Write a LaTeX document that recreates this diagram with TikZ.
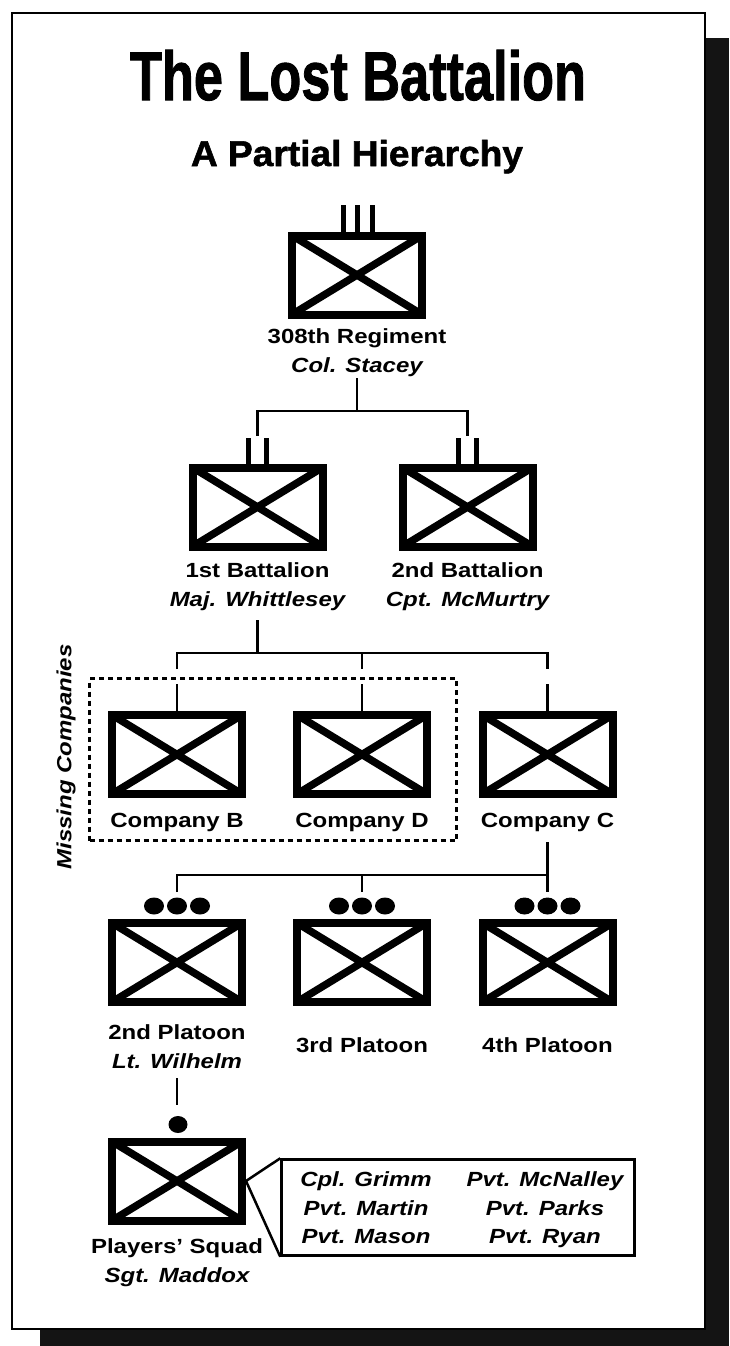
\documentclass[tikz,border=0pt]{standalone}
\usepackage{graphicx}
\usepackage{fontspec}
\setmainfont{Liberation Sans}[FakeStretch=1.17]
\newfontfamily\titlefont{Liberation Sans}[FakeBold=1.5]
\begin{document}
\begin{tikzpicture}[x=1pt,y=-1pt,
  unit/.style={draw, line width=8pt, minimum width=130pt, minimum height=79pt,
    inner sep=0pt, outer sep=4pt,
    path picture={\draw[line width=7.5pt]
      (path picture bounding box.north west) -- (path picture bounding box.south east)
      (path picture bounding box.south west) -- (path picture bounding box.north east);}},
  lab/.style={font=\fontsize{20.5}{24}\selectfont\bfseries, inner sep=0pt, anchor=base},
  cmd/.style={font=\fontsize{20.5}{24}\selectfont\bfseries\itshape, inner sep=0pt, anchor=base},
  conn/.style={line width=2.5pt},
  bar/.style={line width=5pt},
  dotm/.style={fill=black}]
\useasboundingbox (0,0) rectangle (729,1346);
% frame and shadow
\fill[black!92] (705,38) rectangle (729,1346);
\fill[black!92] (40,1329) rectangle (729,1346);
\draw[line width=2.5pt] (12,13) rectangle (705,1329);
% title
\node[inner sep=0pt, anchor=base] (title) at (358,100)
  {\resizebox{456pt}{50pt}{\titlefont\bfseries The Lost Battalion}};
\node[inner sep=0pt, anchor=base] (subtitle) at (357,166)
  {\resizebox{332pt}{26pt}{\titlefont\bfseries A Partial Hierarchy}};
% units
\node[unit] (reg) at (357,275) {};
\node[unit] (bat1) at (257.5,507) {};
\node[unit] (bat2) at (467.5,507) {};
\node[unit] (coB) at (177,754.5) {};
\node[unit] (coD) at (362,754.5) {};
\node[unit] (coC) at (547.5,754.5) {};
\node[unit] (pl2) at (177,962.5) {};
\node[unit] (pl3) at (362,962.5) {};
\node[unit] (pl4) at (547.5,962.5) {};
\node[unit] (sq) at (177,1181) {};
% echelon markers
\foreach \dx in {-14,0,15}
  \draw[bar] ([xshift=\dx pt]reg.north) -- ([xshift=\dx pt,yshift=27pt]reg.north);
\foreach \n in {bat1,bat2}
  \foreach \dx in {-9,9}
    \draw[bar] ([xshift=\dx pt]\n.north) -- ([xshift=\dx pt,yshift=26pt]\n.north);
\foreach \n in {pl2,pl3,pl4}
  \foreach \dx in {-23,0,23}
    \fill[dotm] ([xshift=\dx pt,yshift=13pt]\n.north) ellipse [x radius=10pt, y radius=8.5pt];
\fill[dotm] ([xshift=1pt,yshift=13pt]sq.north) ellipse [x radius=9.5pt, y radius=8.5pt];
% labels
\node[lab] (reglab) at (357,343) {308th Regiment};
\node[cmd] (regcmd) at (357,372) {Col. Stacey};
\node[lab] (b1lab) at (257.5,577) {1st Battalion};
\node[cmd] (b1cmd) at (257.5,606) {Maj. Whittlesey};
\node[lab] (b2lab) at (467.5,577) {2nd Battalion};
\node[cmd] (b2cmd) at (467.5,606) {Cpt. McMurtry};
\node[lab] (cBlab) at (177,827) {Company B};
\node[lab] (cDlab) at (362,827) {Company D};
\node[lab] (cClab) at (547.5,827) {Company C};
\node[lab] (p2lab) at (177,1039) {2nd Platoon};
\node[cmd] (p2cmd) at (177,1068) {Lt. Wilhelm};
\node[lab] (p3lab) at (362,1052) {3rd Platoon};
\node[lab] (p4lab) at (547.5,1052) {4th Platoon};
\node[lab] (sqlab) at (177,1253) {Players' Squad};
\node[cmd] (sqcmd) at (177,1282) {Sgt. Maddox};
% missing companies box
\node[draw, line width=2.5pt, dash pattern=on 5pt off 4pt,
  minimum width=367pt, minimum height=162pt, inner sep=0pt] (miss) at (273,759.5) {};
\node[cmd, rotate=90, anchor=center] (misslab) at (66,757) {Missing Companies};
% members box
\node[draw, line width=2.5pt, minimum width=353pt, minimum height=96pt, inner sep=0pt,
  outer sep=1.25pt] (mem) at (458,1207.5) {};
\node[cmd] (m1) at (366,1186) {Cpl. Grimm};
\node[cmd] (m2) at (366,1215) {Pvt. Martin};
\node[cmd] (m3) at (366,1243) {Pvt. Mason};
\node[cmd] (m4) at (545,1186) {Pvt. McNalley};
\node[cmd] (m5) at (545,1215) {Pvt. Parks};
\node[cmd] (m6) at (545,1243) {Pvt. Ryan};
% connectors
\coordinate (jr) at (357,411);
\draw[conn] ([yshift=-6pt]regcmd.base) -- (regcmd.base |- jr);
\draw[conn] ([yshift=28pt]bat1.north) |- (jr) -| ([yshift=28pt]bat2.north);
\coordinate (jb) at (257.5,653);
\draw[conn] ([yshift=-14pt]b1cmd.base) -- (b1cmd.base |- jb);
\draw[conn] ([yshift=42pt]coB.north) |- (jb) -| ([yshift=42pt]coC.north);
\draw[conn] (coD.north |- jb) -- ([yshift=42pt]coD.north);
\foreach \n in {coB,coD,coC}
  \draw[conn] (\n.north) -- ([yshift=27pt]\n.north);
\coordinate (jc) at (547.5,875);
\draw[conn] ([yshift=-15pt]cClab.base) -- (jc) -- ([yshift=27pt]pl4.north);
\draw[conn] ([yshift=27pt]pl2.north) |- (jc);
\draw[conn] (pl3.north |- jc) -- ([yshift=27pt]pl3.north);
\draw[conn] ([yshift=-10pt]p2cmd.base) -- ([yshift=33pt]sq.north);
\draw[conn] (mem.north west) -- (sq.east) -- (mem.south west);
\end{tikzpicture}
\end{document}
